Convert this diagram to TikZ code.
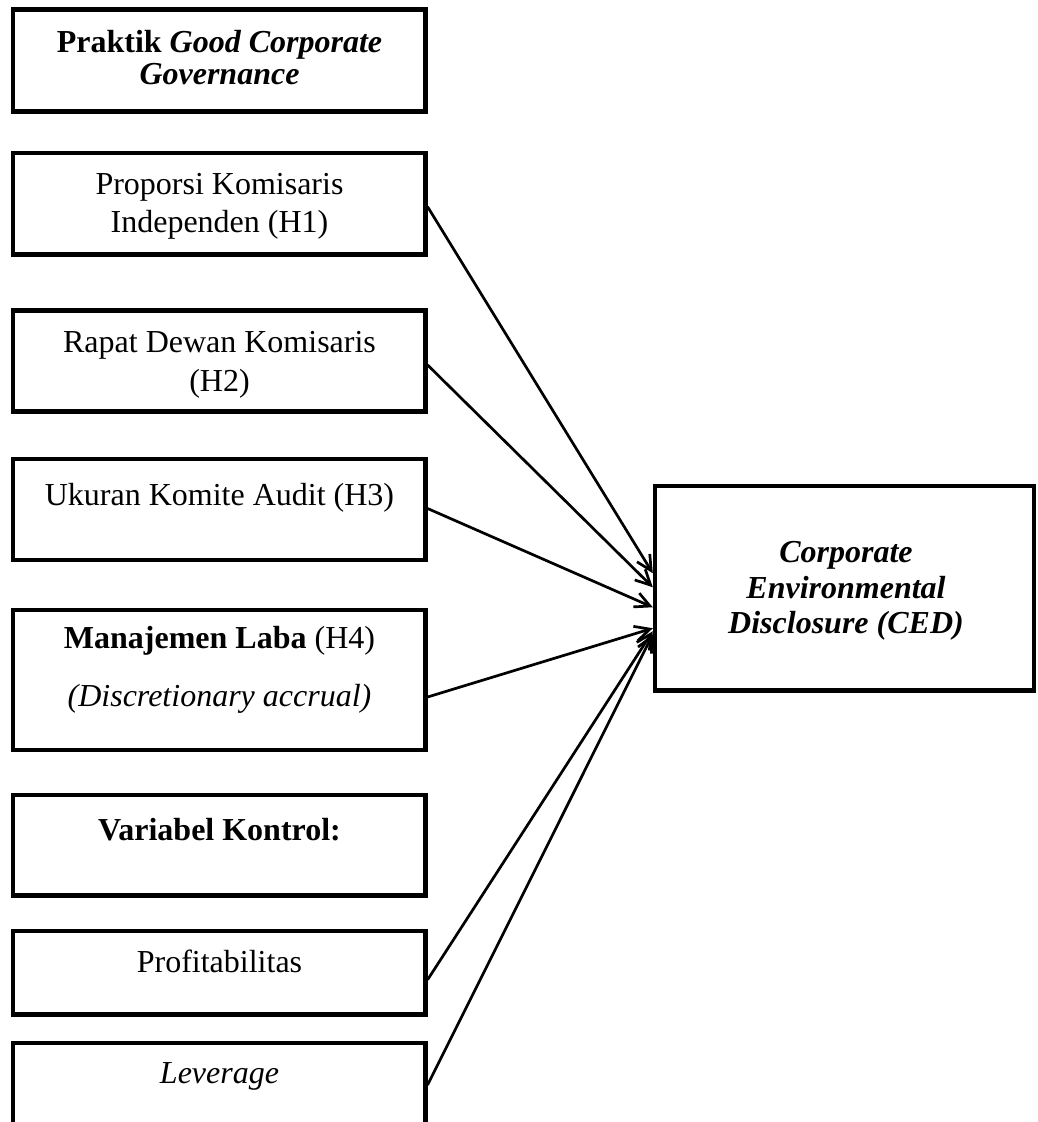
\documentclass[tikz,border=0pt]{standalone}
\usepackage{fontspec}
\setmainfont{Liberation Serif}
\usetikzlibrary{arrows.meta}
\tikzset{
  box/.style={draw, line width=4.2pt, inner sep=0pt, minimum width=412.5pt},
  bigbox/.style={draw, line width=4.4pt, inner sep=0pt},
  txt/.style={inner sep=0pt, anchor=base, font=\fontsize{32}{38}\selectfont},
  conn/.style={line width=2.7pt, -{Straight Barb[length=15pt,width=15pt]}},
}
\begin{document}
\begin{tikzpicture}[x=1pt, y=-1pt]
\clip (0,0) rectangle (1037,1122);
\fill[white] (0,0) rectangle (1037,1122);
% boxes
\node[box, minimum height=102pt]   (b1)  at (219.25,60.5)  {};
\node[box, minimum height=101.5pt] (b2)  at (219.25,203.75) {};
\node[box, minimum height=101pt]   (b3)  at (219.25,361)   {};
\node[box, minimum height=101pt]   (b4)  at (219.25,509.5) {};
\node[box, minimum height=140pt]   (b5)  at (219.25,680)   {};
\node[box, minimum height=100.5pt] (b6)  at (219.25,845.25) {};
\node[box, minimum height=83.5pt]  (b7)  at (219.25,972.75) {};
\node[box, minimum height=102pt]   (b8)  at (219.25,1094)  {};
\node[bigbox, minimum width=379pt, minimum height=204.5pt] (ced) at (844.5,588.25) {};
% texts
\node[txt] (t1a) at (219.5,52) {\textbf{Praktik} \textbf{\textit{Good Corporate}}};
\node[txt] (t1b) at (219.5,84) {\textbf{\textit{Governance}}};
\node[txt] (t2a) at (219.5,194) {Proporsi Komisaris};
\node[txt] (t2b) at (219.5,232) {Independen (H1)};
\node[txt] (t3a) at (219.5,352) {Rapat Dewan Komisaris};
\node[txt] (t3b) at (219.5,391) {(H2)};
\node[txt] (t4)  at (219.5,505) {Ukuran Komite Audit (H3)};
\node[txt] (t5a) at (219.5,648) {\textbf{Manajemen Laba} (H4)};
\node[txt] (t5b) at (219.5,706) {\textit{(Discretionary accrual)}};
\node[txt] (t6)  at (219.5,840) {\textbf{Variabel Kontrol:}};
\node[txt] (t7)  at (219.5,972) {Profitabilitas};
\node[txt] (t8)  at (219.5,1083) {\textit{Leverage}};
\node[txt] (c1)  at (846,562) {\textbf{\textit{Corporate}}};
\node[txt] (c2)  at (846,598) {\textbf{\textit{Environmental}}};
\node[txt] (c3)  at (846,633) {\textbf{\textit{Disclosure (CED)}}};
% connectors
\draw[conn] ([yshift=-3pt]b2.east) -- ([yshift=15pt]ced.west);
\draw[conn] ([yshift=-4pt]b3.east) -- ([yshift=1pt]ced.west);
\draw[conn] ([yshift=1pt]b4.east)  -- ([yshift=-19pt]ced.west);
\draw[conn] ([yshift=-17pt]b5.east) -- ([yshift=-40pt]ced.west);
\draw[conn] ([yshift=-7pt]b7.east) -- ([yshift=-43pt]ced.west);
\draw[conn] ([yshift=9pt]b8.east)  -- ([yshift=-46pt]ced.west);
\end{tikzpicture}
\end{document}
